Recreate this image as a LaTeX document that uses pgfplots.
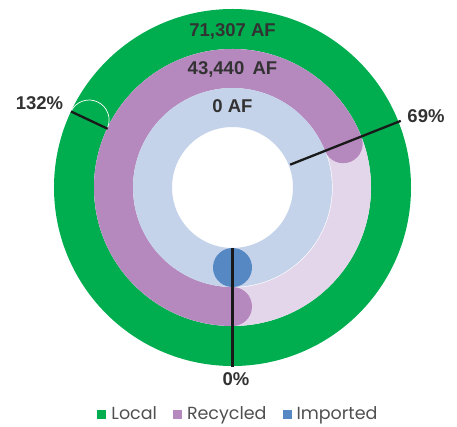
\documentclass[border=0pt]{standalone}
\usepackage{fontspec}
\setmainfont{Liberation Sans}
\newfontfamily\legfont{Poppins}
\usepackage{pgfplots}
\pgfplotsset{compat=1.18}

\definecolor{localgreen}{RGB}{0,174,80}
\definecolor{recpurple}{RGB}{181,136,190}
\definecolor{reclight}{RGB}{228,214,234}
\definecolor{impblue}{RGB}{86,137,196}
\definecolor{implight}{RGB}{196,211,233}
\definecolor{txt}{RGB}{50,50,50}
\definecolor{legtxt}{RGB}{80,80,80}
\definecolor{pointer}{RGB}{25,25,25}

% one row = one ring: a round-capped arc from the bottom, clockwise, pct of a full turn
\pgfplotsset{
  ringbase/.style={
    scatter, only marks, mark=*, forget plot,
    point meta=\thisrow{pct}, point meta min=0, point meta max=200,
    visualization depends on={\thisrow{pct}\as\ringpct},
    visualization depends on={\thisrow{r}\as\ringr},
    visualization depends on={\thisrow{w}\as\ringw},
    scatter/@post marker code/.code={\endscope},
  },
  ring/.style={
    ringbase,
    scatter/@pre marker code/.code={%
      \draw[#1, line width=\ringw pt, line cap=round]
        (-90:\ringr pt) arc[start angle=-90, delta angle={-3.6*\ringpct-0.01}, radius=\ringr pt];
      \scope[opacity=0]},
  },
  ringcap/.style={
    ringbase,
    scatter/@pre marker code/.code={%
      \pgfmathsetmacro\endang{-90-3.6*\ringpct}%
      \pgfmathsetmacro\halfw{\ringw/2}%
      \draw[#1, line width=0.7pt]
        (\endang:\ringr pt) ++(\endang:\halfw pt) arc[start angle=\endang, delta angle=-180, radius=\halfw pt];
      \scope[opacity=0]},
  },
  legsq/.style={legend image code/.code={%
    \fill[#1, draw=none] (0pt,-4.5pt) rectangle (9pt,4.5pt);
    \path[draw=none, fill=none] (0pt,-4.5pt) rectangle (12pt,4.5pt);}},
}
\tikzset{lbl/.style={font=\bfseries\fontsize{18.5}{20}\selectfont, text=txt, inner sep=0pt, anchor=center}}

\begin{document}
\begin{tikzpicture}
\begin{axis}[
  x=1pt, y=1pt,
  xmin=-232.5, xmax=224.5, ymin=-238.5, ymax=187.5,
  hide axis, clip=false, set layers,
  legend columns=3,
  legend cell align=left,
  legend style={at={(axis cs:6,-226.5)}, anchor=center, draw=none, fill=none,
    inner sep=0pt, text=legtxt, font=\legfont\fontsize{17.5}{19}\selectfont,
    /tikz/every even column/.append style={column sep=14pt}},
]
\path (axis cs:-232.5,-238.5) rectangle (axis cs:224.5,187.5);

% Local (outer)
\addplot[ring=localgreen] table {
x y pct r w
0 0 132 158.5 40
};
% Recycled track and bar
\addplot[ring=reclight] table {
x y pct r w
0 0 100 119 39
};
\addplot[ring=white] table {
x y pct r w
0 0 100 99.5 1.2
};
\addplot[ring=recpurple] table {
x y pct r w
0 0 69 119 39
};
% Imported track and bar
\addplot[ring=implight] table {
x y pct r w
0 0 100 80 39
};
\addplot[ring=impblue] table {
x y pct r w
0 0 0 80 39
};
% outline of the overlapping end of the Local bar
\addplot[ringcap=white] table {
x y pct r w
0 0 132 158.5 40
};

% pointer lines at the end of each bar
\addplot[pointer, line width=2.3pt, data cs=polar, forget plot, on layer=axis foreground] coordinates {(154.8,138) (154.8,178.5)};
\addplot[pointer, line width=2.3pt, data cs=polar, forget plot, on layer=axis foreground] coordinates {(21.6,62) (21.6,181)};
\addplot[pointer, line width=2.3pt, data cs=polar, forget plot, on layer=axis foreground] coordinates {(-90,60) (-90,179.5)};

\begin{pgfonlayer}{axis foreground}
\node[lbl] at (axis cs:0,156.5) {71,307 AF};
\node[lbl] at (axis cs:0,118.5) {43,440\hspace{0.45em}AF};
\node[lbl] at (axis cs:0,81) {0 AF};
\node[lbl] at (axis cs:-193,84.5) {132\%};
\node[lbl] at (axis cs:193.5,71.5) {69\%};
\node[lbl] at (axis cs:3.5,-191.5) {0\%};
\end{pgfonlayer}

\addlegendimage{legsq=localgreen}
\addlegendentry{Local}
\addlegendimage{legsq=recpurple}
\addlegendentry{Recycled}
\addlegendimage{legsq=impblue}
\addlegendentry{Imported}
\end{axis}
\end{tikzpicture}
\end{document}
